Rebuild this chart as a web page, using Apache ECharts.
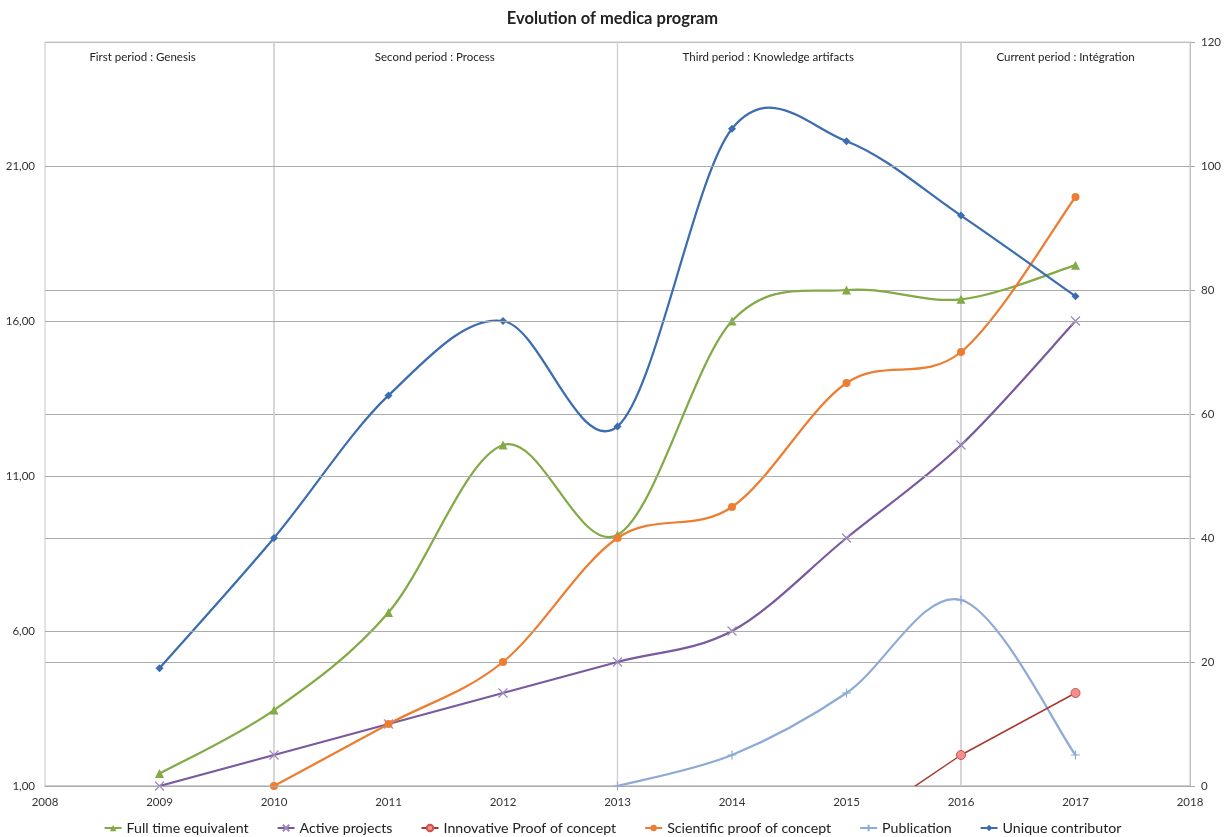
<!DOCTYPE html>
<html>
<head>
<meta charset="utf-8">
<script src="https://cdn.jsdelivr.net/npm/echarts@6/dist/echarts.min.js"></script>
<style>
html,body{margin:0;padding:0;background:#fff;}
#chart{width:1225px;height:837px;}
</style>
</head>
<body>
<div id="chart"></div>
<script>
const years = [2009, 2010, 2011, 2012, 2013, 2014, 2015, 2016, 2017];
const fullTimeEquivalent = [1.4, 3.45, 6.6, 12.0, 9.1, 16.0, 17.0, 16.7, 17.8];
const activeProjects = [0, 5, 10, 15, 20, 25, 40, 55, 75];
const innovativeProofOfConcept = [null, null, null, null, null, null, -0.5, 2, 4];
const scientificProofOfConcept = [null, 1, 3, 5, 9, 10, 14, 15, 20];
const publication = [null, null, null, null, 1, 2, 4, 7, 2];
const uniqueContributor = [19, 40, 63, 75, 58, 106, 104, 92, 79];
const leftTicks = [1, 6, 11, 16, 21];
const periods = [
  {name: 'First period : Genesis', from: 2008, to: 2010},
  {name: 'Second period : Process', from: 2010, to: 2013},
  {name: 'Third period : Knowledge artifacts', from: 2013, to: 2016},
  {name: 'Current period : Intégration', from: 2016, to: 2018}
];
const periodLabelShift = [-17, -11, -21, -10];

const FONT = 'Lato, "Open Sans", sans-serif';
const pair = arr => years.map((y, i) => [y, arr[i]]);
const CROSS = 'path://M0,0L10,10M10,0L0,10';
const PLUS = 'path://M5,0L5,10M0,5L10,5';

const C = {
  fte: '#82aa46', active: '#7a5a9e', innov: '#a63a30', sci: '#ed7d31', pub: '#8eaad6', uniq: '#3c6db0'
};

// Excel-style smoothed curve (Catmull-Rom segments) drawn through the axes' scales
function curve(id, arr, yAxisIndex, color) {
  return {
    type: 'custom', name: id, coordinateSystem: 'cartesian2d',
    xAxisIndex: 0, yAxisIndex: yAxisIndex,
    data: pair(arr), encode: {x: 0, y: 1},
    silent: true, clip: true, z: 2,
    renderItem: function (params, api) {
      const i = params.dataIndex;
      const has = j => j >= 0 && j < arr.length && arr[j] !== null;
      if (!has(i) || !has(i + 1)) return null;
      const P = j => api.coord([years[j], arr[j]]);
      const p1 = P(i), p2 = P(i + 1);
      const p0 = has(i - 1) ? P(i - 1) : p1;
      const p3 = has(i + 2) ? P(i + 2) : p2;
      return {
        type: 'bezierCurve',
        shape: {
          x1: p1[0], y1: p1[1], x2: p2[0], y2: p2[1],
          cpx1: p1[0] + (p2[0] - p0[0]) / 6, cpy1: p1[1] + (p2[1] - p0[1]) / 6,
          cpx2: p2[0] - (p3[0] - p1[0]) / 6, cpy2: p2[1] - (p3[1] - p1[1]) / 6
        },
        style: {stroke: color, lineWidth: 2.25, fill: 'none', lineCap: 'round'}
      };
    }
  };
}

const chart = echarts.init(document.getElementById('chart'));
chart.setOption({
  animation: false,
  textStyle: {fontFamily: FONT},
  title: {
    text: 'Evolution of medica program',
    left: 'center', top: 5,
    textStyle: {fontFamily: FONT, fontSize: 16.5, fontWeight: 'bold', color: '#222'}
  },
  legend: {
    top: 816, left: 'center',
    itemWidth: 17, itemHeight: 8, itemGap: 28,
    textStyle: {fontFamily: FONT, fontSize: 14.2, color: '#222'},
    lineStyle: {opacity: 1},
    data: ['Full time equivalent', 'Active projects', 'Innovative Proof of concept',
           'Scientific proof of concept', 'Publication', 'Unique contributor']
  },
  grid: {left: 45, right: 35, top: 42, bottom: 51, containLabel: false},
  xAxis: {
    type: 'value', min: 2008, max: 2018, interval: 1,
    axisLine: {show: true, lineStyle: {color: '#bdbdbd', width: 1.5}},
    axisTick: {show: false},
    splitLine: {show: false},
    axisLabel: {formatter: v => String(v), color: '#333', fontSize: 11.5, margin: 10}
  },
  yAxis: [
    {
      type: 'value', min: 1, max: 25, position: 'left',
      axisLine: {show: false},
      axisTick: {show: false, customValues: leftTicks},
      splitLine: {show: false},
      axisLabel: {
        customValues: leftTicks,
        formatter: v => v.toFixed(2).replace('.', ','),
        color: '#333', fontSize: 11.5, margin: 10
      }
    },
    {
      type: 'value', min: 0, max: 120, interval: 20, position: 'right',
      axisLine: {show: true, lineStyle: {color: '#a6a6a6'}},
      axisTick: {show: true, length: 5, lineStyle: {color: '#a6a6a6'}},
      splitLine: {show: true, lineStyle: {color: '#ababab', width: 1.2}},
      axisLabel: {color: '#333', fontSize: 11.5, margin: 11}
    }
  ],
  series: [
    curve('fte-curve', fullTimeEquivalent, 0, C.fte),
    curve('active-curve', activeProjects, 1, C.active),
    curve('sci-curve', scientificProofOfConcept, 0, C.sci),
    curve('pub-curve', publication, 0, C.pub),
    curve('uniq-curve', uniqueContributor, 1, C.uniq),
    {
      name: 'Full time equivalent', type: 'line', yAxisIndex: 0,
      data: pair(fullTimeEquivalent),
      symbol: 'triangle', symbolSize: 9,
      lineStyle: {color: C.fte, width: 2.25, opacity: 0},
      itemStyle: {color: C.fte},
      markLine: {
        silent: true, symbol: 'none', label: {show: false},
        lineStyle: {color: '#ababab', type: 'solid', width: 1.2, opacity: 1},
        data: leftTicks.map(v => ({yAxis: v}))
      },
      z: 3
    },
    {
      name: 'Active projects', type: 'line', yAxisIndex: 1,
      data: pair(activeProjects),
      symbol: CROSS, symbolSize: 9,
      lineStyle: {color: C.active, width: 2.25, opacity: 0},
      itemStyle: {color: C.active, borderColor: '#9c88bc', borderWidth: 1.2},
      z: 3
    },
    {
      name: 'Innovative Proof of concept', type: 'line', yAxisIndex: 0, smooth: false,
      data: pair(innovativeProofOfConcept),
      symbol: 'circle', symbolSize: 9,
      lineStyle: {color: C.innov, width: 1.5},
      itemStyle: {color: '#f29090', borderColor: '#d0504a', borderWidth: 1},
      z: 3
    },
    {
      name: 'Scientific proof of concept', type: 'line', yAxisIndex: 0,
      data: pair(scientificProofOfConcept),
      symbol: 'circle', symbolSize: 8,
      lineStyle: {color: C.sci, width: 2.25, opacity: 0},
      itemStyle: {color: C.sci},
      z: 3
    },
    {
      name: 'Publication', type: 'line', yAxisIndex: 0,
      data: pair(publication),
      symbol: PLUS, symbolSize: 9,
      lineStyle: {color: C.pub, width: 2.25, opacity: 0},
      itemStyle: {color: C.pub, borderColor: C.pub, borderWidth: 1.2},
      z: 3
    },
    {
      name: 'Unique contributor', type: 'line', yAxisIndex: 1,
      data: pair(uniqueContributor),
      symbol: 'diamond', symbolSize: 8,
      lineStyle: {color: C.uniq, width: 2.25, opacity: 0},
      itemStyle: {color: C.uniq},
      markArea: {
        silent: true,
        itemStyle: {color: 'rgba(0,0,0,0)', borderColor: '#d0d0d0', borderWidth: 1.2},
        label: {show: true, position: 'insideTop', distance: 9.5, color: '#222', fontSize: 11.5, fontFamily: FONT},
        data: periods.map((p, k) => [
          {name: p.name, xAxis: p.from, label: {offset: [periodLabelShift[k], 0]}},
          {xAxis: p.to}
        ])
      },
      z: 3
    }
  ]
});
</script>
</body>
</html>
